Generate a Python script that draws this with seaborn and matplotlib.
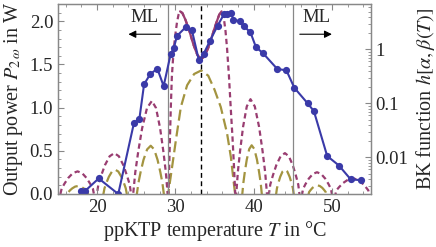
import numpy as np
import pandas as pd
import matplotlib
matplotlib.use("Agg")
import matplotlib.pyplot as plt
import seaborn as sns
from matplotlib.ticker import MultipleLocator, LogLocator, NullFormatter, FixedLocator, FixedFormatter

# ---------------- data ----------------
# measured SHG output power vs crystal temperature
temp_meas = [17.9, 18.4, 20.2, 22.7, 24.7, 25.4, 26.0, 26.8, 27.7, 28.5, 29.4, 29.8,
             30.2, 31.3, 32.1, 33.0, 33.6, 34.4, 35.4, 36.2, 36.6, 37.1, 37.4, 38.2,
             38.8, 39.6, 40.3, 41.2, 43.0, 44.2, 45.2, 46.9, 47.7, 49.4, 50.9, 52.4, 53.7]
power_meas = [0.03, 0.03, 0.18, 0.0, 0.82, 0.87, 1.27, 1.39, 1.45, 1.25, 1.62, 1.69,
              1.83, 1.93, 1.90, 1.55, 1.62, 1.77, 1.95, 2.08, 2.08, 2.10, 2.02, 2.00,
              1.94, 1.87, 1.70, 1.63, 1.45, 1.43, 1.23, 1.05, 0.96, 0.44, 0.33, 0.17, 0.16]

# BK function (purple, short dashes), log10 of h
temp_bk_a = [15.05, 15.46, 15.82, 16.3, 16.9, 17.5, 18.08, 18.65, 19.11, 19.46, 19.8,
             20.16, 20.52, 21.0, 21.6, 22.2, 22.78, 23.35, 23.81, 24.16, 24.5,
             24.875, 25.25, 25.75, 26.375, 27.0, 27.525, 28.05, 28.47, 28.785, 29.1,
             29.25, 29.4, 29.55, 29.75, 29.95, 30.2, 30.4, 30.6, 30.9, 31.3, 31.8, 32.3,
             32.8, 33.25, 33.7, 34.2, 34.7, 35.2, 35.6, 35.9, 36.15, 36.4, 36.6, 36.85,
             37.1, 37.3, 37.5, 37.7,
             37.985, 38.27, 38.65, 39.125, 39.6, 40.15, 40.7, 41.14, 41.47, 41.8,
             42.13, 42.46, 42.9, 43.45, 44.0, 44.5, 45.0, 45.4, 45.7, 46.0,
             46.315, 46.63, 47.05, 47.575, 48.1, 48.625, 49.15, 49.57, 49.885, 50.2,
             50.575, 50.95, 51.45, 52.075, 52.7, 53.275, 53.85, 54.31, 54.655, 55.0]
log_bk_a = [-2.841, -2.583, -2.490, -2.384, -2.293, -2.261, -2.293, -2.384, -2.490, -2.583, -2.841,
            -2.503, -2.337, -2.145, -1.981, -1.923, -1.981, -2.145, -2.337, -2.503, -2.841,
            -2.279, -1.897, -1.462, -1.087, -0.956, -1.087, -1.462, -1.897, -2.279, -2.841,
            -1.955, -1.150, -0.505, -0.070, 0.220, 0.494, 0.639, 0.703, 0.671, 0.542, 0.333, 0.091,
            -0.102, -0.183, -0.135, 0.026, 0.252, 0.478, 0.639, 0.703, 0.623, 0.349, 0.026, -0.505,
            -1.150, -1.633, -2.197, -2.841,
            -2.271, -1.883, -1.438, -1.058, -0.924, -1.058, -1.438, -1.883, -2.271, -2.841,
            -2.503, -2.337, -2.145, -1.981, -1.923, -1.981, -2.145, -2.337, -2.503, -2.841,
            -2.587, -2.496, -2.395, -2.308, -2.277, -2.308, -2.395, -2.496, -2.587, -2.841,
            -2.612, -2.548, -2.475, -2.413, -2.390, -2.413, -2.475, -2.548, -2.612, -2.841]

# BK function (olive, long dashes), log10 of h
temp_bk_b = [15.0, 16.1, 16.32, 16.535, 16.825, 17.19, 17.55, 17.91, 18.275, 18.565, 18.78, 19.0,
             19.8, 20.7, 20.94, 21.18, 21.5, 21.9, 22.3, 22.7, 23.1, 23.42, 23.66, 23.9,
             24.5, 25.0, 25.28, 25.555, 25.925, 26.39, 26.85, 27.29, 27.725, 28.075, 28.34, 28.6,
             29.0, 29.5, 30.1, 30.7, 31.5, 32.4, 33.3, 34.2, 35.0, 35.8, 36.6, 37.1, 37.5, 37.7,
             38.1, 38.5, 38.69, 38.875, 39.125, 39.44, 39.75, 40.09, 40.425, 40.695, 40.9, 41.1,
             42.0, 42.8, 42.98, 43.16, 43.4, 43.7, 44.0, 44.3, 44.6, 44.84, 45.02, 45.2,
             46.0, 46.9, 47.09, 47.275, 47.525, 47.84, 48.15, 48.46, 48.775, 49.025, 49.21, 49.4,
             50.2, 55.0]
log_bk_b = [-3.2, -2.761, -2.646, -2.612, -2.575, -2.543, -2.532, -2.543, -2.575, -2.612, -2.646, -2.761,
            -3.2, -2.761, -2.575, -2.475, -2.361, -2.263, -2.229, -2.263, -2.361, -2.475, -2.575, -2.761,
            -3.2, -2.761, -2.472, -2.274, -2.048, -1.854, -1.786, -1.854, -2.048, -2.274, -2.472, -2.761,
            -2.761, -2.261, -1.649, -1.069, -0.666, -0.457, -0.392, -0.489, -0.747, -1.069, -1.552, -2.003, -2.519, -2.761,
            -3.2, -2.761, -2.471, -2.271, -2.042, -1.847, -1.778, -1.847, -2.042, -2.271, -2.471, -2.761,
            -3.2, -2.761, -2.575, -2.475, -2.361, -2.263, -2.229, -2.263, -2.361, -2.475, -2.575, -2.761,
            -3.2, -2.761, -2.643, -2.608, -2.566, -2.532, -2.519, -2.532, -2.566, -2.608, -2.643, -2.761,
            -3.2, -3.2]

ml_left = 29.0
ml_right = 45.0
t_opt = 33.3
solid_range = (30.6, 35.9)

x_ticks = [20, 30, 40, 50]
y_ticks = [0.0, 0.5, 1.0, 1.5, 2.0]
y2_ticks = [0.01, 0.1, 1]
y2_labels = ["0.01", "0.1", "1"]

# ---------------- style ----------------
sns.set_style("ticks")
plt.rcParams['font.family'] = ['Liberation Serif', 'DejaVu Serif']
plt.rcParams['mathtext.fontset'] = 'stix'
plt.rcParams['axes.edgecolor'] = '#888888'

blue = '#3a3aa8'
purple = '#993d71'
olive = '#a39440'
frame = '#888888'
fs_tick = 13.5
fs_lab = 14.5

fig = plt.figure(figsize=(4.36, 2.47), dpi=100)
ax = fig.add_axes([58/436, 1-194/247, (371-58)/436, (194-4)/247])
ax2 = ax.twinx()

df_a = pd.DataFrame({'T': temp_bk_a, 'h': 10**np.array(log_bk_a)})
df_b = pd.DataFrame({'T': temp_bk_b, 'h': 10**np.array(log_bk_b)})
df_m = pd.DataFrame({'T': temp_meas, 'P': power_meas})

sns.lineplot(data=df_b, x='T', y='h', ax=ax2, color=olive, linewidth=1.6, sort=False, estimator=None)
ax2.lines[-1].set_dashes([5, 2.2])
sns.lineplot(data=df_a, x='T', y='h', ax=ax2, color=purple, linewidth=1.6, sort=False, estimator=None)
ax2.lines[-1].set_dashes([2.4, 1.6])
sub = df_a[(df_a['T'] >= solid_range[0]) & (df_a['T'] <= solid_range[1])]
sns.lineplot(data=sub, x='T', y='h', ax=ax2, color=purple, linewidth=1.6, sort=False, estimator=None)

ax2.set_yscale('log')
ax2.set_ylim(10**-2.68, 10**0.839)

sns.lineplot(data=df_m, x='T', y='P', ax=ax, color=blue, linewidth=1.5, marker='o',
             markersize=5.2, markeredgewidth=0, sort=False, estimator=None)
ax.set_zorder(ax2.get_zorder() + 1)
ax.patch.set_visible(False)

ax.axvline(ml_left, color=frame, lw=0.9, zorder=0)
ax.axvline(ml_right, color=frame, lw=0.9, zorder=0)
ax.axvline(t_opt, color='black', lw=1.0, ls=(0, (3.5, 2.5)), zorder=0)

ax.set_xlim(15, 55)
ax.set_ylim(0, 2.2)

# ML annotations
ax.annotate('', xy=(24.0, 1.85), xytext=(28.1, 1.85),
            arrowprops=dict(arrowstyle='-|>', color='black', lw=0.8, mutation_scale=11,
                            shrinkA=0, shrinkB=0))
ax.text(26.0, 1.95, 'ML', ha='center', va='bottom', fontsize=13.5)
ax.annotate('', xy=(50.0, 1.85), xytext=(45.9, 1.85),
            arrowprops=dict(arrowstyle='-|>', color='black', lw=0.8, mutation_scale=11,
                            shrinkA=0, shrinkB=0))
ax.text(48.0, 1.95, 'ML', ha='center', va='bottom', fontsize=13.5)

# ticks
ax.xaxis.set_major_locator(FixedLocator(x_ticks))
ax.xaxis.set_minor_locator(MultipleLocator(2))
ax.yaxis.set_major_locator(FixedLocator(y_ticks))
ax.yaxis.set_minor_locator(MultipleLocator(0.1))
ax.set_yticklabels([f"{v:.1f}" for v in y_ticks])
ax.tick_params(axis='both', which='both', direction='in', color=frame, labelsize=fs_tick)
ax.tick_params(axis='x', which='both', top=True)
ax.tick_params(which='major', length=4.5, width=0.8)
ax.tick_params(which='minor', length=2.5, width=0.6)
ax.tick_params(axis='y', right=False)

ax2.yaxis.set_major_locator(FixedLocator(y2_ticks))
ax2.yaxis.set_major_formatter(FixedFormatter(y2_labels))
ax2.yaxis.set_minor_locator(LogLocator(base=10, subs=np.arange(2, 10)))
ax2.yaxis.set_minor_formatter(NullFormatter())
ax2.tick_params(axis='y', which='both', direction='in', color=frame, labelsize=fs_tick, pad=3)
ax2.tick_params(which='major', length=4.5, width=0.8)
ax2.tick_params(which='minor', length=2.5, width=0.6)

ax.set_xlabel('ppKTP temperature $T$ in °C', fontsize=fs_lab, labelpad=2)
ax.set_ylabel('Output power $P_{2\\,\\omega}$ in W', fontsize=fs_lab, labelpad=3)
ax2.set_ylabel('BK function $h[\\alpha,\\beta(T)]$', fontsize=fs_lab, labelpad=4)

for a in (ax, ax2):
    for s in a.spines.values():
        s.set_color(frame)
        s.set_linewidth(0.9)

fig.savefig('out.png', dpi=100)
